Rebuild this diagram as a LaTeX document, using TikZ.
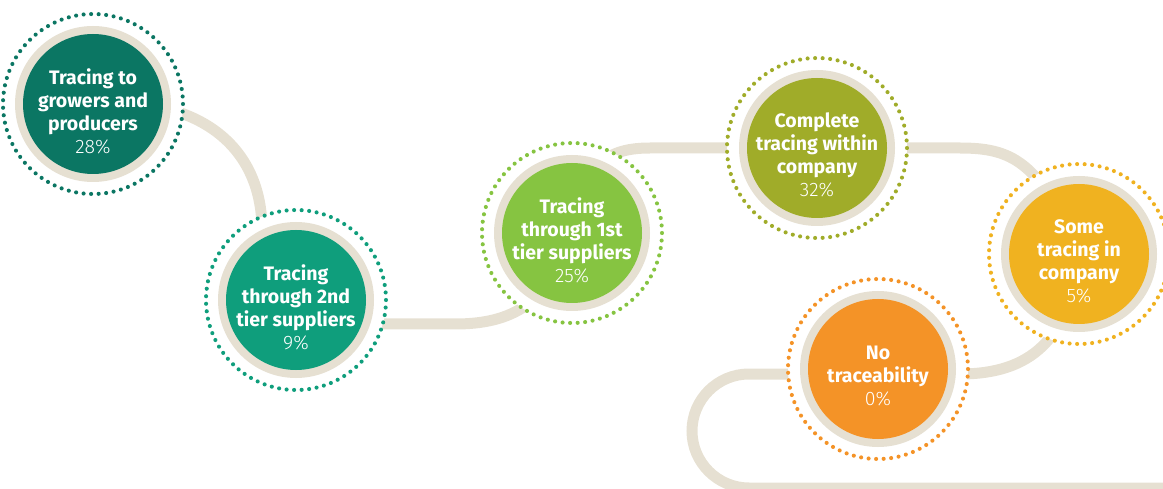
\documentclass[tikz,border=0pt]{standalone}
\usepackage{fontspec}
\setmainfont{Fira Sans}
\newfontfamily\pctfont{Fira Sans Light}
\usetikzlibrary{backgrounds}

\definecolor{trackbeige}{HTML}{E6E0D2}
\definecolor{growC}{HTML}{0B7663}
\definecolor{tiertwoC}{HTML}{0F9E7C}
\definecolor{tieroneC}{HTML}{86C441}
\definecolor{companyC}{HTML}{A0AC29}
\definecolor{someC}{HTML}{F0B220}
\definecolor{noneC}{HTML}{F49327}

\tikzset{
  stage/.style={circle, minimum size=180pt, inner sep=0pt, fill=white,
    draw=#1, line width=4.1pt, line cap=round, dash pattern=on 0pt off 7.54pt,
    path picture={
      \fill[trackbeige] (path picture bounding box.center) circle (78);
      \fill[#1] (path picture bounding box.center) circle (70);}},
  stagetext/.style={align=center, text=white, yshift=-7pt,
    font=\fontsize{19.5}{23}\selectfont\bfseries},
  track/.style={draw=trackbeige, line width=11pt},
}

\begin{document}
\begin{tikzpicture}[x=1pt, y=-1pt]
  \useasboundingbox (0,0) rectangle (1163,489);

  % stages
  \node[stage=growC]    (grow)    at (93,104)  {};
  \node[stage=tiertwoC] (tiertwo) at (296,300) {};
  \node[stage=tieroneC] (tierone) at (572,233) {};
  \node[stage=companyC] (company) at (817,148) {};
  \node[stage=someC]    (some)    at (1079,254) {};
  \node[stage=noneC]    (none)    at (878,369) {};
  \coordinate (trackend) at (1175,488);

  \node[stagetext] (grow-txt) at (grow) {Tracing to\\growers and\\producers\\{\pctfont\mdseries 28\%}};
  \node[stagetext] (tiertwo-txt) at (tiertwo) {Tracing\\through 2nd\\tier suppliers\\{\pctfont\mdseries 9\%}};
  \node[stagetext] (tierone-txt) at (tierone) {Tracing\\through 1st\\tier suppliers\\{\pctfont\mdseries 25\%}};
  \node[stagetext] (company-txt) at (company) {Complete\\tracing within\\company\\{\pctfont\mdseries 32\%}};
  \node[stagetext] (some-txt) at (some) {Some\\tracing in\\company\\{\pctfont\mdseries 5\%}};
  \node[stagetext] (none-txt) at (none) {No\\traceability\\{\pctfont\mdseries 0\%}};

  % the winding track behind the stages
  \begin{pgfonlayer}{background}
    \draw[track] (grow.center) .. controls (190,95) and (262,140) .. (262,230) -- (tiertwo.center);
    \draw[track] (tiertwo.center) -- (tiertwo.center |- 0,324) -- (455,324)
      .. controls (510,324) and (550,305) .. (tierone.center);
    \draw[track] (tierone.center) .. controls (585,170) and (600,148) .. (650,148) -- (company.center);
    \draw[track] (company.center) -- (960,148) .. controls (1010,148) and (1040,160) .. (some.center);
    \draw[track] (some.center) .. controls (1070,340) and (1030,374) .. (960,374) -- (none.center |- 0,374);
    \draw[track, rounded corners=57pt] (none.center |- 0,374) -- (692,374) -- (692,488) -- (trackend);
  \end{pgfonlayer}
\end{tikzpicture}
\end{document}
